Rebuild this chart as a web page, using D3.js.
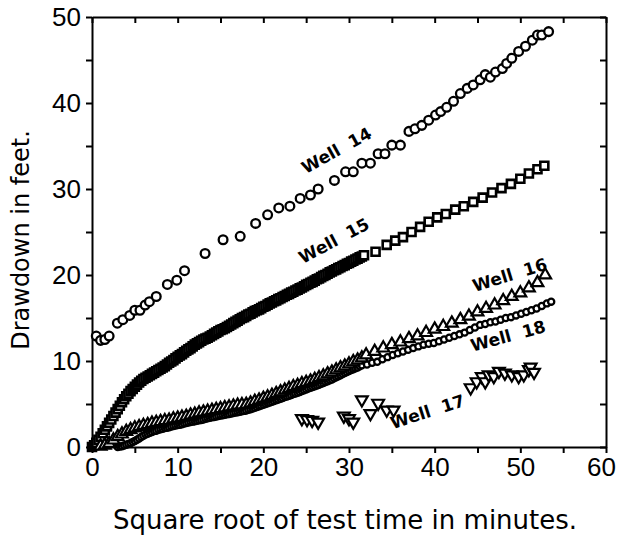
<!DOCTYPE html>
<html><head><meta charset="utf-8">
<script src="https://cdn.jsdelivr.net/npm/d3@7"></script>
<style>html,body{margin:0;padding:0;background:#fff;}svg{display:block;}</style>
</head><body><svg id="c" width="619" height="539"></svg>
<script>
// ---- data ----
const xTicks = [0, 10, 20, 30, 40, 50, 60];
const yTicks = [0, 10, 20, 30, 40, 50];
const xTitle = "Square root of test time in minutes.";
const yTitle = "Drawdown in feet.";

const well14X = [0.5,1.0,1.5,2.0,2.96,3.6,4.4,5.0,5.6,6.2,6.7,7.5,8.8,9.9,10.8,13.2,15.3,17.3,19.1,20.5,21.8,23.1,24.3,25.5,26.4,28.3,29.6,30.5,31.5,32.5,33.4,34.2,35.0,36.0,37.0,37.7,38.5,39.3,40.1,40.7,41.4,42.2,43.0,43.8,44.5,45.3,45.9,46.5,47.1,47.9,48.4,49.0,49.8,50.6,51.4,52.0,52.5,53.3];
const well14Y = [12.9,12.4,12.5,12.9,14.4,14.8,15.3,15.9,15.9,16.5,16.9,17.5,18.9,19.4,20.5,22.5,24.1,24.5,26.0,27.0,27.8,28.0,28.9,29.3,30.0,31.0,32.0,32.0,33.0,33.0,34.1,34.1,35.1,35.1,36.7,37.0,37.4,38.0,38.6,39.0,39.5,40.2,41.1,41.7,42.1,42.7,43.3,43.0,43.6,44.0,44.6,45.2,46.0,46.6,47.3,47.9,47.9,48.3];

const well15X = [0,0.25,0.5,0.75,1,1.25,1.5,1.75,2,2.25,2.5,2.75,3,3.25,3.5,3.75,4,4.25,4.5,4.75,5,5.25,5.5,5.75,6,6.25,6.5,6.75,7,7.25,7.5,7.75,8,8.25,8.5,8.75,9,9.25,9.5,9.75,10,10.25,10.5,10.75,11,11.25,11.5,11.75,12,12.25,12.5,12.75,13,13.25,13.5,13.75,14,14.25,14.5,14.75,15,15.25,15.5,15.75,16,16.25,16.5,16.75,17,17.25,17.5,17.75,18,18.25,18.5,18.75,19,19.25,19.5,19.75,20,20.25,20.5,20.75,21,21.25,21.5,21.75,22,22.25,22.5,22.75,23,23.25,23.5,23.75,24,24.25,24.5,24.75,25,25.25,25.5,25.75,26,26.25,26.5,26.75,27,27.25,27.5,27.75,28,28.25,28.5,28.75,29,29.25,29.5,29.75,30,30.25,30.5,30.75,31,31.25,31.5,31.75,
  33.1,34.4,35.4,36.3,37.3,38.3,39.3,40.3,41.3,42.4,43.4,44.5,45.6,46.7,47.8,48.9,50.0,51.0,52.0,52.8];
const well15Y = [0.0,0.2,0.5,0.85,1.2,1.6,2.0,2.4,2.8,3.2,3.6,4.0,4.4,4.8,5.2,5.55,5.9,6.2,6.5,6.75,7.0,7.25,7.5,7.7,7.9,8.05,8.2,8.35,8.5,8.65,8.8,8.95,9.1,9.25,9.4,9.6,9.8,9.95,10.1,10.3,10.5,10.65,10.8,11.0,11.2,11.35,11.5,11.7,11.9,12.05,12.2,12.35,12.5,12.6,12.7,12.85,13.0,13.15,13.3,13.45,13.6,13.7,13.8,13.95,14.1,14.25,14.4,14.55,14.7,14.85,15.0,15.1,15.25,15.4,15.5,15.65,15.8,15.9,16.0,16.15,16.3,16.4,16.55,16.7,16.8,16.95,17.05,17.2,17.3,17.45,17.55,17.7,17.8,17.95,18.05,18.2,18.3,18.45,18.55,18.7,18.85,18.95,19.1,19.2,19.35,19.5,19.6,19.75,19.9,20.0,20.15,20.3,20.4,20.55,20.65,20.8,20.9,21.05,21.15,21.3,21.4,21.55,21.65,21.8,21.9,22.05,22.15,22.3,
  22.7,23.5,24.0,24.4,25.0,25.6,26.2,26.7,27.1,27.6,28.0,28.5,29.0,29.6,30.1,30.6,31.2,31.8,32.3,32.7];

const well16X = [1,1.5,2,2.5,3,3.5,4,4.5,5,5.5,6,6.5,7,7.5,8,8.5,9,9.5,10,10.5,11,11.5,12,12.5,13,13.5,14,14.5,15,15.5,16,16.5,17,17.5,18,18.5,19,19.5,20,20.5,21,21.5,22,22.5,23,23.5,24,24.5,25,25.5,26,26.5,27,27.5,28,28.5,29,29.5,30,30.5,31,31.5,
  32,33,34,35,36,37,38,39,40,41,42,43,44,45,46,47,48,49,50,51,52,52.9];
const well16Y = [0.1,0.2,0.4,0.8,1.2,1.5,1.8,2.0,2.2,2.35,2.5,2.6,2.75,2.85,2.95,3.05,3.1,3.25,3.35,3.45,3.55,3.7,3.8,3.95,4.05,4.15,4.25,4.35,4.45,4.55,4.65,4.75,4.85,4.9,4.95,5.1,5.3,5.45,5.65,5.8,6.0,6.2,6.4,6.6,6.8,7.0,7.15,7.35,7.5,7.65,7.85,8.05,8.25,8.5,8.7,8.95,9.2,9.4,9.65,9.9,10.1,10.35,
  10.7,11.1,11.5,11.9,12.2,12.6,12.9,13.3,13.7,14.0,14.4,14.8,15.2,15.7,16.1,16.5,17.0,17.5,17.9,18.5,19.1,20.0];

const well17X = [24.5,25.1,25.7,26.4,29.4,30.0,30.5,31.5,32.5,33.4,34.4,35.2,44.2,44.9,45.5,45.9,46.3,46.9,47.5,48.2,49.0,49.8,50.4,51.0,51.2,51.6];
const well17Y = [3.3,3.2,3.1,2.9,3.6,3.3,2.9,5.5,3.9,5.1,4.3,4.3,6.9,7.6,8.2,7.6,8.4,8.2,8.8,8.6,8.4,8.2,8.4,9.0,9.3,8.7];

const well18X = [3,3.25,3.5,3.75,4,4.25,4.5,4.75,5,5.25,5.5,5.75,6,6.25,6.5,6.75,7,7.25,7.5,7.75,8,8.25,8.5,8.75,9,9.25,9.5,9.75,10,10.25,10.5,10.75,11,11.25,11.5,11.75,12,12.25,12.5,12.75,13,13.25,13.5,13.75,14,14.25,14.5,14.75,15,15.25,15.5,15.75,16,16.25,16.5,16.75,17,17.25,17.5,17.75,18,18.25,18.5,18.75,19,19.25,19.5,19.75,20,20.25,20.5,20.75,21,21.25,21.5,21.75,22,22.25,22.5,22.75,23,23.25,23.5,23.75,24,24.25,24.5,24.75,25,25.25,25.5,25.75,26,26.25,26.5,26.75,27,27.25,27.5,27.75,28,28.25,28.5,28.75,29,29.25,29.5,29.75,30,30.25,30.5,30.75,31,31.25,31.5,
  32.1,32.7,33.3,33.9,34.5,35.1,35.7,36.3,36.9,37.5,38.1,38.7,39.3,39.9,40.5,41.1,41.7,42.3,42.9,43.5,44.1,44.7,45.3,45.9,46.5,47.1,47.7,48.3,48.9,49.5,50.1,50.7,51.3,51.9,52.5,53.1,53.6];
const well18Y = [0.0,0.05,0.1,0.18,0.25,0.35,0.45,0.58,0.7,0.85,1.0,1.15,1.3,1.45,1.55,1.65,1.75,1.85,1.9,2.0,2.05,2.12,2.2,2.25,2.3,2.38,2.45,2.5,2.55,2.6,2.65,2.72,2.8,2.85,2.9,2.95,3.0,3.05,3.1,3.15,3.2,3.28,3.35,3.4,3.45,3.5,3.55,3.6,3.65,3.7,3.75,3.8,3.85,3.9,3.95,4.0,4.05,4.1,4.15,4.2,4.25,4.32,4.4,4.48,4.55,4.65,4.75,4.82,4.9,5.0,5.1,5.18,5.25,5.35,5.45,5.52,5.6,5.7,5.8,5.88,5.95,6.05,6.15,6.22,6.3,6.4,6.5,6.6,6.7,6.8,6.9,6.98,7.05,7.15,7.25,7.35,7.45,7.55,7.65,7.75,7.85,7.98,8.1,8.22,8.35,8.48,8.6,8.72,8.85,8.95,9.05,9.15,9.25,9.38,9.5,
  9.6,9.8,9.9,10.2,10.45,10.7,10.9,11.1,11.3,11.5,11.7,11.9,12.0,12.1,12.3,12.5,12.7,12.9,13.1,13.3,13.6,13.9,14.2,14.3,14.5,14.6,14.8,15.0,15.1,15.3,15.5,15.7,15.9,16.1,16.4,16.7,16.9];

const labelText = ["Well 14", "Well 15", "Well 16", "Well 17", "Well 18"];
const labelX = [28.6, 28.3, 48.8, 39.2, 48.6];
const labelY = [34.4, 23.9, 19.9, 4.0, 12.8];
const labelAngle = [-29, -28, -17, -18, -15];

// ---- chart ----
const svg = d3.select("#c");
const x = d3.scaleLinear().domain([0, 60]).range([92, 606]);
const y = d3.scaleLinear().domain([0, 50]).range([447, 17]);
const allX = d3.range(0, 61, 5), allY = d3.range(0, 51, 5);
const fontTick = "Liberation Sans";

function styleAxis(g) {
  g.select(".domain").attr("stroke", "#000").attr("stroke-width", 2);
  g.selectAll(".tick line").attr("stroke", "#000").attr("stroke-width", 2);
  g.selectAll(".tick text").attr("fill", "#000").attr("font-family", fontTick).attr("font-size", 26);
}
svg.append("g").attr("transform", `translate(0,${y(0)})`)
  .call(d3.axisBottom(x).tickValues(allX).tickSize(6).tickSizeOuter(0).tickPadding(5)
    .tickFormat(d => xTicks.includes(d) ? d : ""))
  .call(styleAxis)
  .call(g => g.selectAll(".tick text").filter(d => d === 60).attr("dx", -5));
svg.append("g").attr("transform", `translate(${x(0)},0)`)
  .call(d3.axisLeft(y).tickValues(allY).tickSize(6).tickSizeOuter(0).tickPadding(5)
    .tickFormat(d => yTicks.includes(d) ? d : ""))
  .call(styleAxis);
svg.append("g").attr("transform", `translate(0,${y(50)})`)
  .call(d3.axisTop(x).tickValues(allX).tickSize(-6).tickSizeOuter(0).tickFormat(""))
  .call(styleAxis);
svg.append("g").attr("transform", `translate(${x(60)},0)`)
  .call(d3.axisRight(y).tickValues(allY).tickSize(-6).tickSizeOuter(0).tickFormat(""))
  .call(styleAxis);

function series(xs, ys, type, size, rot, sw) {
  const pts = xs.map((v, i) => [v, ys[i]]);
  svg.append("g").selectAll("path").data(pts).join("path")
    .attr("d", d3.symbol().type(type).size(size))
    .attr("transform", d => `translate(${x(d[0])},${y(d[1])}) rotate(${rot})`)
    .attr("fill", "#fff").attr("stroke", "#000").attr("stroke-width", sw);
}
series(well14X, well14Y, d3.symbolCircle, 60, 0, 2.3);
series(well15X, well15Y, d3.symbolSquare, 64, 0, 2.6);
series(well18X, well18Y, d3.symbolCircle, 30, 0, 2.3);
series(well16X, well16Y, d3.symbolTriangle, 60, 0, 2.2);
series(well17X, well17Y, d3.symbolTriangle, 60, 180, 2.2);

labelText.forEach((t, i) => {
  svg.append("text").attr("x", x(labelX[i])).attr("y", y(labelY[i]))
    .attr("transform", `rotate(${labelAngle[i]},${x(labelX[i])},${y(labelY[i])})`)
    .attr("text-anchor", "middle").attr("dominant-baseline", "middle")
    .attr("font-family", "DejaVu Sans").attr("font-weight", "bold").attr("font-size", 17)
    .attr("fill", "#000").text(t.replace(" ", "\u00a0\u00a0"));
});

svg.append("text").attr("x", 345).attr("y", 529).attr("text-anchor", "middle")
  .attr("font-family", "DejaVu Sans").attr("font-size", 26).attr("fill", "#000").text(xTitle);
svg.append("text").attr("transform", "translate(29,240) rotate(-90)").attr("text-anchor", "middle")
  .attr("font-family", "DejaVu Sans").attr("font-size", 24).attr("fill", "#000").text(yTitle);
</script></body></html>
